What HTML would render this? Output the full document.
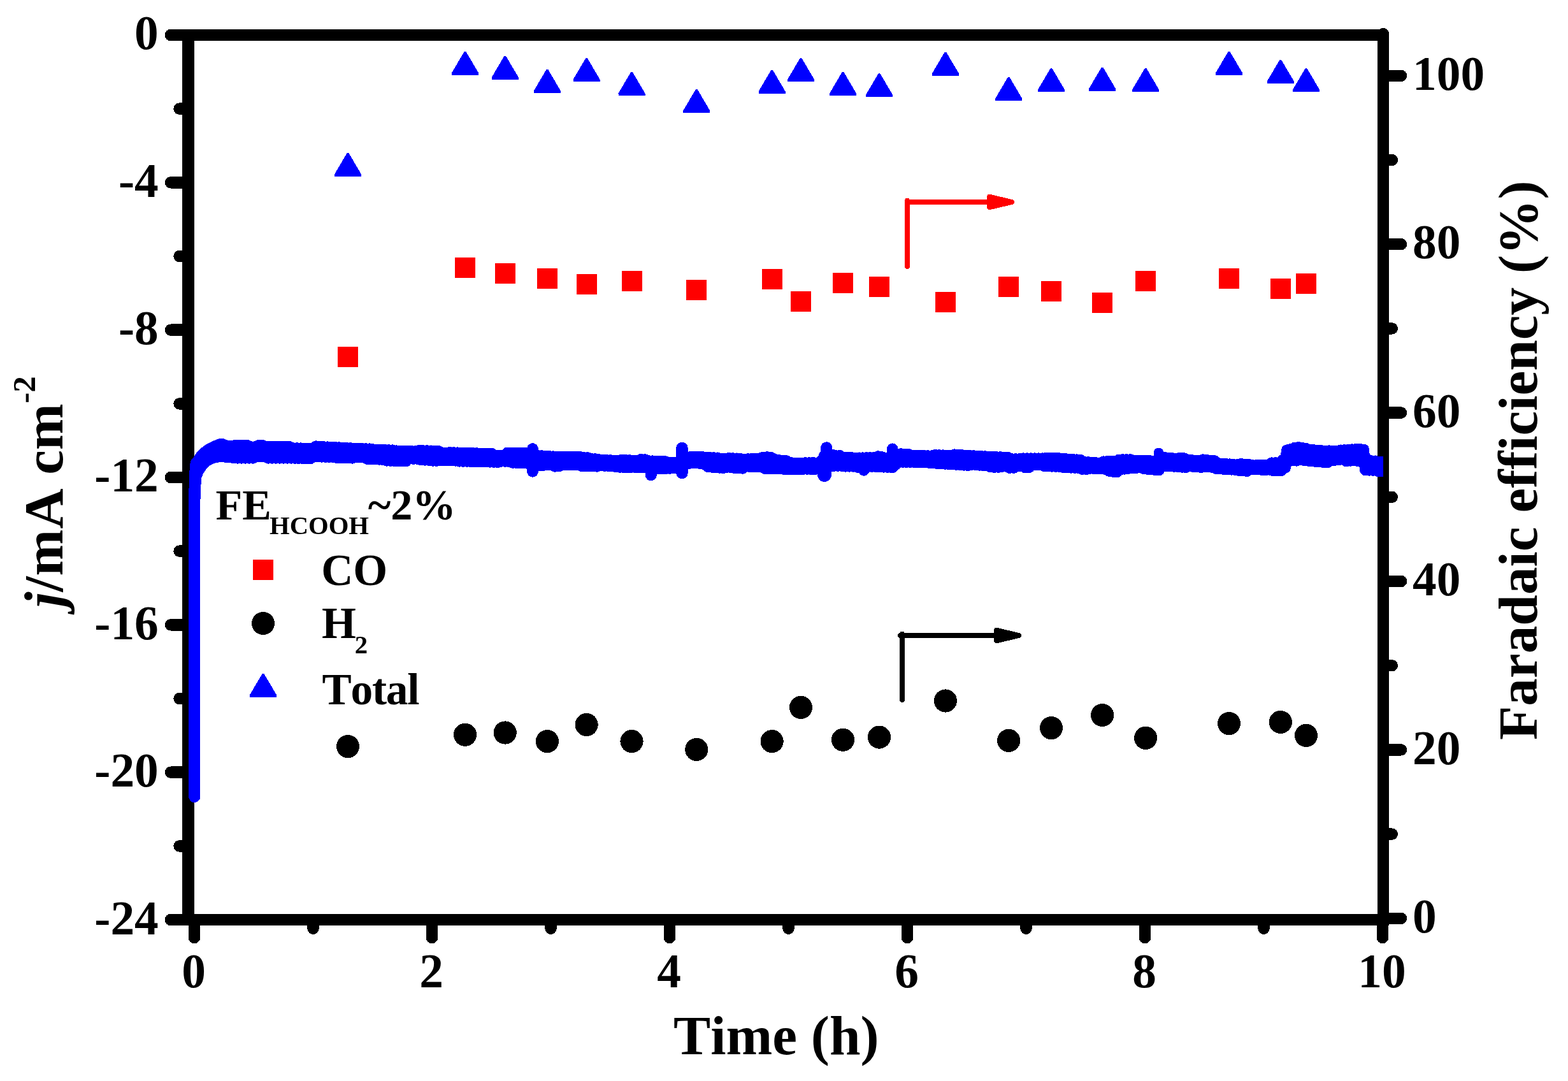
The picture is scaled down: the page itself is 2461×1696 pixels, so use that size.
<!DOCTYPE html>
<html lang="en"><head><meta charset="utf-8"><title>Stability test: current density and Faradaic efficiency vs time</title>
<style>html,body{margin:0;padding:0;background:#fff;}body{width:2461px;height:1696px;overflow:hidden;}svg{display:block;}text{font-family:'Liberation Serif','Times New Roman',serif;font-weight:bold;fill:#000;font-variant-ligatures:none;font-kerning:none;}</style>
</head><body>
<svg width="2461" height="1696" viewBox="0 0 2461 1696" shape-rendering="crispEdges">
<rect x="0" y="0" width="2461" height="1696" fill="#fff"/>
<g stroke="#000" stroke-width="18.4" stroke-linecap="round" fill="none">
<line x1="295.4" y1="45.8" x2="295.4" y2="1452.2" stroke-linecap="butt"/>
<line x1="295.4" y1="55.0" x2="2171.0" y2="55.0" stroke-linecap="butt"/>
<line x1="295.4" y1="1443.0" x2="2180.2" y2="1443.0" stroke-linecap="butt"/>
<line x1="2171.0" y1="53.2" x2="2171.0" y2="1440.8"/>
<line x1="292.4" y1="55.00" x2="268.0" y2="55.00"/>
<line x1="292.4" y1="170.67" x2="281.5" y2="170.67"/>
<line x1="292.4" y1="286.33" x2="268.0" y2="286.33"/>
<line x1="292.4" y1="402.00" x2="281.5" y2="402.00"/>
<line x1="292.4" y1="517.67" x2="268.0" y2="517.67"/>
<line x1="292.4" y1="633.33" x2="281.5" y2="633.33"/>
<line x1="292.4" y1="749.00" x2="268.0" y2="749.00"/>
<line x1="292.4" y1="864.67" x2="281.5" y2="864.67"/>
<line x1="292.4" y1="980.33" x2="268.0" y2="980.33"/>
<line x1="292.4" y1="1096.00" x2="281.5" y2="1096.00"/>
<line x1="292.4" y1="1211.67" x2="268.0" y2="1211.67"/>
<line x1="292.4" y1="1327.33" x2="281.5" y2="1327.33"/>
<line x1="292.4" y1="1443.00" x2="268.0" y2="1443.00"/>
<line x1="2174.0" y1="1440.80" x2="2199.0" y2="1440.80"/>
<line x1="2174.0" y1="1308.60" x2="2184.8" y2="1308.60"/>
<line x1="2174.0" y1="1176.40" x2="2199.0" y2="1176.40"/>
<line x1="2174.0" y1="1044.20" x2="2184.8" y2="1044.20"/>
<line x1="2174.0" y1="912.00" x2="2199.0" y2="912.00"/>
<line x1="2174.0" y1="779.80" x2="2184.8" y2="779.80"/>
<line x1="2174.0" y1="647.60" x2="2199.0" y2="647.60"/>
<line x1="2174.0" y1="515.40" x2="2184.8" y2="515.40"/>
<line x1="2174.0" y1="383.20" x2="2199.0" y2="383.20"/>
<line x1="2174.0" y1="251.00" x2="2184.8" y2="251.00"/>
<line x1="2174.0" y1="118.80" x2="2199.0" y2="118.80"/>
<line x1="305.00" y1="1446.0" x2="305.00" y2="1471.0"/>
<line x1="491.50" y1="1446.0" x2="491.50" y2="1456.7"/>
<line x1="678.00" y1="1446.0" x2="678.00" y2="1471.0"/>
<line x1="864.50" y1="1446.0" x2="864.50" y2="1456.7"/>
<line x1="1051.00" y1="1446.0" x2="1051.00" y2="1471.0"/>
<line x1="1237.50" y1="1446.0" x2="1237.50" y2="1456.7"/>
<line x1="1424.00" y1="1446.0" x2="1424.00" y2="1471.0"/>
<line x1="1610.50" y1="1446.0" x2="1610.50" y2="1456.7"/>
<line x1="1797.00" y1="1446.0" x2="1797.00" y2="1471.0"/>
<line x1="1983.50" y1="1446.0" x2="1983.50" y2="1456.7"/>
<line x1="2170.00" y1="1446.0" x2="2170.00" y2="1471.0"/>
</g>
<g font-size="75.4">
<text x="248.8" y="77.1" text-anchor="end">0</text>
<text x="248.8" y="308.5" text-anchor="end">-4</text>
<text x="248.8" y="540.0" text-anchor="end">-8</text>
<text x="248.8" y="771.4" text-anchor="end">-12</text>
<text x="248.8" y="1002.9" text-anchor="end">-16</text>
<text x="248.8" y="1234.3" text-anchor="end">-20</text>
<text x="248.8" y="1465.8" text-anchor="end">-24</text>
<text x="2217" y="1463.4">0</text>
<text x="2217" y="1198.9">20</text>
<text x="2217" y="934.3">40</text>
<text x="2217" y="669.8">60</text>
<text x="2217" y="405.2">80</text>
<text x="2217" y="140.7">100</text>
<text x="304.0" y="1549.2" text-anchor="middle">0</text>
<text x="677.0" y="1549.2" text-anchor="middle">2</text>
<text x="1050.0" y="1549.2" text-anchor="middle">4</text>
<text x="1423.0" y="1549.2" text-anchor="middle">6</text>
<text x="1796.0" y="1549.2" text-anchor="middle">8</text>
<text x="2169.0" y="1549.2" text-anchor="middle">10</text>
</g>
<text x="1057.1" y="1654.1" font-size="87.3">Time (h)</text>
<text transform="translate(97.6 953.0) rotate(-90)" font-size="87.3"><tspan font-style="italic">j</tspan>/<tspan dx="1.0">m</tspan><tspan dx="1.2">A</tspan><tspan dx="0.0"> cm</tspan><tspan font-size="51.0" dy="-42.6" dx="0.5">-2</tspan></text>
<text transform="translate(2412.2 1161.0) rotate(-90)" font-size="87.3">Faradaic efficiency (%)</text>
<g fill="#0000ff" stroke="none">
<polygon points="296.2,1250.0 296.2,790.0 296.6,760.0 297.9,728.4 300.0,722.0 303.5,718.0 308.7,709.7 314.9,703.5 323.2,697.3 331.5,693.2 340.0,689.5 346.0,687.6 352.0,688.5 358.0,691.0 360.0,691.0 360.0,725.7 344.0,725.3 336.0,727.0 329.4,730.5 323.2,736.7 319.0,742.9 316.5,749.1 315.0,765.0 314.3,790.0 314.3,1250.0"/>
<circle cx="305.25" cy="1250" r="9.05"/>
</g>
<polyline fill="none" stroke="#0000ff" stroke-width="18.0" stroke-linejoin="round" stroke-linecap="round" points="352.0,698.2 355.0,716.6 358.0,700.0 361.0,716.7 364.0,700.1 367.0,718.5 370.0,698.6 373.0,718.6 376.0,698.6 379.0,718.6 382.0,698.7 385.0,718.6 388.0,698.8 391.0,718.6 394.0,701.3 397.0,718.6 400.0,701.3 403.0,716.2 406.0,699.0 409.0,716.2 412.0,699.0 415.0,716.2 418.0,700.6 421.0,718.6 424.0,700.7 427.0,718.6 430.0,700.7 433.0,718.6 436.0,700.8 439.0,718.6 442.0,700.8 445.0,718.6 448.0,700.8 451.0,718.6 454.0,700.9 457.0,718.6 460.0,703.3 463.0,718.8 466.0,703.3 469.0,718.9 472.0,703.4 475.0,719.1 478.0,703.5 481.0,719.2 484.0,703.8 487.0,719.3 490.0,704.1 493.0,716.3 496.0,700.4 499.0,716.4 502.0,700.8 505.0,716.6 508.0,701.1 511.0,716.7 514.0,701.4 517.0,716.9 520.0,701.7 523.0,717.0 526.0,702.0 529.0,718.0 532.0,702.3 535.0,718.1 538.0,702.6 541.0,718.3 544.0,702.9 547.0,718.4 550.0,703.2 553.0,718.6 556.0,703.6 559.0,717.2 562.0,703.8 565.0,717.4 568.0,704.0 571.0,717.6 574.0,704.2 577.0,720.1 580.0,704.4 583.0,720.3 586.0,705.4 589.0,720.5 592.0,705.6 595.0,720.7 598.0,705.8 601.0,720.9 604.0,706.0 607.0,722.6 610.0,706.2 613.0,722.8 616.0,706.4 619.0,723.0 622.0,707.4 625.0,723.2 628.0,707.5 631.0,723.3 634.0,707.7 637.0,723.4 640.0,707.9 643.0,719.5 646.0,708.1 649.0,719.7 652.0,708.3 655.0,719.8 658.0,706.9 661.0,721.5 664.0,707.1 667.0,721.6 670.0,707.3 673.0,721.8 676.0,707.5 679.0,722.7 682.0,707.7 685.0,722.8 688.0,707.8 691.0,722.1 694.0,710.4 697.0,722.3 700.0,710.6 703.0,722.4 706.0,710.0 709.0,722.5 712.0,710.2 715.0,722.6 718.0,710.4 721.0,723.6 724.0,710.6 727.0,723.7 730.0,710.8 733.0,723.8 736.0,710.9 739.0,724.0 742.0,711.1 745.0,724.1 748.0,711.3 751.0,724.2 754.0,711.5 757.0,724.3 760.0,711.7 763.0,724.5 766.0,711.9 769.0,724.6 772.0,712.0 775.0,724.8 778.0,714.5 781.0,725.0 784.0,714.5 787.0,723.6 790.0,714.6 793.0,723.8 796.0,710.6 799.0,724.0 802.0,710.7 805.0,725.8 808.0,710.7 811.0,726.0 814.0,710.8 817.0,726.2 820.0,710.8 823.0,726.4 826.0,711.0 829.0,727.0 832.0,713.3 835.0,728.6 838.0,714.1 841.0,728.5 844.0,714.8 847.0,730.1 850.0,715.3 853.0,729.9 856.0,715.6 859.0,729.4 862.0,716.0 865.0,728.9 868.0,716.4 871.0,731.6 874.0,716.7 877.0,731.4 880.0,716.9 883.0,729.1 886.0,717.1 889.0,729.2 892.0,716.5 895.0,729.3 898.0,716.7 901.0,729.4 904.0,716.9 907.0,729.5 910.0,717.1 913.0,731.2 916.0,718.1 919.0,731.3 922.0,718.3 925.0,731.4 928.0,720.0 931.0,731.5 934.0,720.2 937.0,731.6 940.0,721.3 943.0,730.3 946.0,721.6 949.0,730.7 952.0,721.9 955.0,731.0 958.0,722.2 961.0,731.3 964.0,722.5 967.0,732.4 970.0,722.9 973.0,732.7 976.0,721.6 979.0,733.0 982.0,721.9 985.0,733.3 988.0,722.3 991.0,732.8 994.0,722.6 997.0,733.0 1000.0,723.0 1003.0,733.2 1006.0,720.9 1009.0,733.2 1012.0,721.3 1015.0,733.2 1018.0,723.3 1021.0,732.4 1024.0,723.4 1027.0,732.4 1030.0,723.5 1033.0,735.5 1036.0,723.6 1039.0,735.2 1042.0,723.7 1045.0,734.9 1048.0,725.4 1051.0,734.7 1054.0,725.5 1057.0,734.4 1060.0,725.6 1063.0,734.2 1066.0,724.1 1069.0,731.5 1072.0,722.1 1075.0,728.8 1078.0,720.1 1081.0,727.2 1084.0,717.0 1087.0,726.5 1090.0,717.0 1093.0,726.3 1096.0,717.1 1099.0,727.1 1102.0,717.1 1105.0,727.9 1108.0,717.5 1111.0,731.9 1114.0,717.8 1117.0,732.7 1120.0,718.2 1123.0,733.4 1126.0,718.5 1129.0,733.7 1132.0,719.7 1135.0,734.0 1138.0,720.1 1141.0,732.7 1144.0,718.8 1147.0,733.0 1150.0,719.2 1153.0,734.1 1156.0,719.5 1159.0,734.4 1162.0,719.9 1165.0,734.7 1168.0,720.6 1171.0,731.8 1174.0,720.3 1177.0,732.1 1180.0,720.0 1183.0,732.4 1186.0,719.7 1189.0,732.5 1192.0,719.4 1195.0,732.6 1198.0,717.5 1201.0,735.1 1204.0,717.2 1207.0,735.1 1210.0,717.8 1213.0,735.2 1216.0,721.0 1219.0,735.2 1222.0,721.8 1225.0,735.3 1228.0,722.5 1231.0,736.1 1234.0,723.3 1237.0,736.2 1240.0,725.7 1243.0,736.2 1246.0,726.5 1249.0,736.3 1252.0,726.8 1255.0,736.4 1258.0,726.5 1261.0,735.7 1264.0,726.2 1267.0,735.8 1270.0,726.3 1273.0,735.9 1276.0,725.9 1279.0,736.0 1282.0,726.9 1285.0,735.0 1288.0,723.7 1291.0,734.3 1294.0,715.0 1297.0,732.8 1300.0,715.0 1303.0,731.3 1306.0,713.6 1309.0,730.8 1312.0,715.1 1315.0,730.8 1318.0,715.0 1321.0,730.8 1324.0,718.1 1327.0,731.6 1330.0,718.0 1333.0,731.6 1336.0,717.9 1339.0,731.6 1342.0,718.6 1345.0,732.7 1348.0,718.5 1351.0,733.4 1354.0,718.4 1357.0,732.2 1360.0,718.2 1363.0,731.9 1366.0,718.1 1369.0,731.9 1372.0,718.0 1375.0,732.2 1378.0,716.3 1381.0,732.4 1384.0,717.1 1387.0,732.6 1390.0,718.7 1393.0,732.8 1396.0,717.5 1399.0,733.2 1402.0,715.3 1405.0,729.1 1408.0,713.1 1411.0,725.2 1414.0,712.3 1417.0,724.8 1420.0,712.6 1423.0,724.9 1426.0,712.8 1429.0,724.9 1432.0,714.5 1435.0,725.0 1438.0,714.7 1441.0,725.0 1444.0,714.9 1447.0,725.1 1450.0,715.0 1453.0,725.2 1456.0,715.2 1459.0,726.1 1462.0,715.4 1465.0,726.5 1468.0,714.0 1471.0,726.9 1474.0,714.2 1477.0,727.3 1480.0,714.4 1483.0,727.7 1486.0,714.6 1489.0,728.0 1492.0,714.8 1495.0,728.4 1498.0,713.4 1501.0,728.8 1504.0,713.7 1507.0,729.2 1510.0,714.1 1513.0,729.6 1516.0,714.5 1519.0,730.0 1522.0,714.9 1525.0,728.8 1528.0,715.3 1531.0,729.2 1534.0,715.7 1537.0,729.7 1540.0,716.1 1543.0,730.1 1546.0,716.3 1549.0,730.5 1552.0,716.6 1555.0,732.5 1558.0,716.8 1561.0,732.9 1564.0,717.1 1567.0,732.8 1570.0,717.3 1573.0,731.8 1576.0,717.6 1579.0,731.7 1582.0,717.8 1585.0,733.9 1588.0,720.2 1591.0,733.8 1594.0,720.2 1597.0,731.2 1600.0,720.2 1603.0,731.1 1606.0,719.4 1609.0,733.3 1612.0,719.4 1615.0,733.2 1618.0,719.4 1621.0,729.0 1624.0,719.4 1627.0,729.2 1630.0,719.4 1633.0,729.4 1636.0,719.4 1639.0,731.2 1642.0,718.6 1645.0,731.4 1648.0,718.6 1651.0,731.6 1654.0,718.6 1657.0,731.8 1660.0,718.6 1663.0,732.1 1666.0,719.6 1669.0,733.1 1672.0,720.0 1675.0,733.3 1678.0,720.5 1681.0,733.6 1684.0,721.0 1687.0,733.8 1690.0,721.4 1693.0,734.0 1696.0,721.9 1699.0,735.9 1702.0,724.8 1705.0,736.1 1708.0,725.2 1711.0,734.7 1714.0,725.7 1717.0,735.0 1720.0,726.2 1723.0,735.2 1726.0,726.6 1729.0,735.5 1732.0,724.4 1735.0,736.2 1738.0,724.1 1741.0,738.8 1744.0,723.8 1747.0,739.8 1750.0,723.5 1753.0,740.3 1756.0,721.6 1759.0,736.4 1762.0,721.3 1765.0,735.6 1768.0,721.3 1771.0,734.9 1774.0,721.3 1777.0,734.2 1780.0,722.9 1783.0,734.2 1786.0,722.9 1789.0,733.5 1792.0,722.9 1795.0,735.1 1798.0,722.9 1801.0,735.7 1804.0,723.1 1807.0,736.4 1810.0,723.5 1813.0,737.0 1816.0,723.3 1819.0,737.3 1822.0,720.6 1825.0,731.3 1828.0,718.0 1831.0,731.2 1834.0,718.6 1837.0,731.1 1840.0,719.2 1843.0,731.7 1846.0,719.7 1849.0,732.2 1852.0,718.7 1855.0,732.7 1858.0,719.3 1861.0,733.2 1864.0,721.4 1867.0,731.4 1870.0,722.0 1873.0,731.9 1876.0,722.5 1879.0,732.4 1882.0,723.2 1885.0,732.9 1888.0,721.4 1891.0,731.8 1894.0,722.0 1897.0,732.3 1900.0,722.6 1903.0,732.9 1906.0,723.2 1909.0,735.0 1912.0,727.0 1915.0,735.5 1918.0,727.6 1921.0,735.9 1924.0,728.0 1927.0,736.3 1930.0,728.4 1933.0,736.6 1936.0,728.9 1939.0,737.0 1942.0,729.3 1945.0,738.2 1948.0,728.1 1951.0,738.5 1954.0,728.5 1957.0,738.9 1960.0,728.8 1963.0,736.5 1966.0,730.2 1969.0,736.4 1972.0,730.1 1975.0,736.3 1978.0,730.0 1981.0,737.0 1984.0,729.9 1987.0,736.9 1990.0,729.7 1993.0,736.8 1996.0,726.4 1999.0,738.3 2002.0,726.3 2005.0,738.2 2008.0,726.0 2011.0,738.1 2014.0,721.3 2017.0,733.6 2020.0,706.3 2023.0,723.5 2026.0,705.0 2029.0,722.2 2032.0,702.7 2035.0,722.6 2038.0,701.8 2041.0,721.5 2044.0,702.8 2047.0,722.1 2050.0,703.9 2053.0,722.7 2056.0,705.7 2059.0,723.3 2062.0,706.3 2065.0,723.9 2068.0,706.7 2071.0,724.5 2074.0,707.1 2077.0,725.1 2080.0,707.5 2083.0,725.5 2086.0,707.4 2089.0,722.5 2092.0,707.9 2095.0,721.9 2098.0,707.6 2101.0,721.3 2104.0,706.5 2107.0,720.7 2110.0,706.2 2113.0,723.3 2116.0,705.8 2119.0,722.7 2122.0,705.4 2125.0,722.4 2128.0,705.0 2131.0,723.0 2134.0,704.6 2137.0,724.2 2140.0,705.6 2143.0,737.4 2146.0,720.8 2149.0,737.6 2152.0,723.1 2155.0,737.8 2158.0,723.5 2161.0,737.9 2162.0,724.5 2162.0,738.8"/>
<rect x="2160" y="715.7" width="11" height="32.2" fill="#0000ff"/>
<g stroke="#0000ff" stroke-linecap="round" fill="none">
<line x1="836.0" y1="704.2" x2="836.0" y2="739.7" stroke-width="18.0"/>
<line x1="1021.8" y1="730.0" x2="1021.8" y2="745.3" stroke-width="18.0"/>
<line x1="1070.5" y1="702.8" x2="1070.5" y2="742.2" stroke-width="18.5"/>
<line x1="1297.2" y1="702.2" x2="1297.2" y2="730.0" stroke-width="18.0"/>
<line x1="1294.0" y1="730.0" x2="1294.0" y2="745.3" stroke-width="21.5"/>
<line x1="1400.8" y1="704.2" x2="1400.8" y2="733.5" stroke-width="17.6"/>
<line x1="1355.7" y1="725.0" x2="1355.7" y2="738.2" stroke-width="17.0"/>
<line x1="1818.6" y1="710.5" x2="1818.6" y2="737.5" stroke-width="16.0"/>
</g>
<g fill="#0000ff">
<polygon points="544.6,240.1 547.4,240.1 567.0,273.4 567.0,277.1 525.0,277.1 525.0,273.4"/>
<polygon points="728.6,81.0 731.4,81.0 751.0,114.3 751.0,118.0 709.0,118.0 709.0,114.3"/>
<polygon points="791.3,88.0 794.1,88.0 813.8,121.3 813.8,125.0 771.7,125.0 771.7,121.3"/>
<polygon points="857.5,109.1 860.3,109.1 879.9,142.4 879.9,146.1 837.9,146.1 837.9,142.4"/>
<polygon points="919.2,91.4 922.0,91.4 941.6,124.7 941.6,128.4 899.6,128.4 899.6,124.7"/>
<polygon points="990.1,113.2 992.9,113.2 1012.5,146.5 1012.5,150.2 970.5,150.2 970.5,146.5"/>
<polygon points="1091.9,140.3 1094.7,140.3 1114.3,173.6 1114.3,177.3 1072.2,177.3 1072.2,173.6"/>
<polygon points="1210.2,110.1 1213.0,110.1 1232.6,143.4 1232.6,147.1 1190.5,147.1 1190.5,143.4"/>
<polygon points="1255.6,91.4 1258.4,91.4 1278.0,124.7 1278.0,128.4 1236.0,128.4 1236.0,124.7"/>
<polygon points="1321.6,113.2 1324.4,113.2 1344.0,146.5 1344.0,150.2 1302.0,150.2 1302.0,146.5"/>
<polygon points="1378.6,115.4 1381.4,115.4 1401.0,148.7 1401.0,152.4 1359.0,152.4 1359.0,148.7"/>
<polygon points="1482.5,82.0 1485.3,82.0 1505.0,115.3 1505.0,119.0 1462.9,119.0 1462.9,115.3"/>
<polygon points="1581.8,121.2 1584.6,121.2 1604.2,154.5 1604.2,158.2 1562.2,158.2 1562.2,154.5"/>
<polygon points="1648.6,107.4 1651.4,107.4 1671.0,140.7 1671.0,144.4 1629.0,144.4 1629.0,140.7"/>
<polygon points="1728.7,105.9 1731.5,105.9 1751.1,139.2 1751.1,142.9 1709.0,142.9 1709.0,139.2"/>
<polygon points="1796.7,107.4 1799.5,107.4 1819.1,140.7 1819.1,144.4 1777.0,144.4 1777.0,140.7"/>
<polygon points="1927.6,81.0 1930.4,81.0 1950.0,114.3 1950.0,118.0 1908.0,118.0 1908.0,114.3"/>
<polygon points="2008.4,94.1 2011.2,94.1 2030.8,127.4 2030.8,131.1 1988.8,131.1 1988.8,127.4"/>
<polygon points="2048.6,107.4 2051.4,107.4 2071.1,140.7 2071.1,144.4 2029.0,144.4 2029.0,140.7"/>
<polygon points="411.6,1057.0 414.4,1057.0 434.1,1090.3 434.1,1094.0 391.9,1094.0 391.9,1090.3"/>
</g>
<g fill="#ff0000">
<rect x="530.0" y="544.0" width="32.0" height="32.0"/>
<rect x="714.0" y="403.9" width="32.0" height="32.0"/>
<rect x="776.7" y="413.0" width="32.0" height="32.0"/>
<rect x="842.9" y="420.9" width="32.0" height="32.0"/>
<rect x="904.6" y="430.0" width="32.0" height="32.0"/>
<rect x="975.5" y="424.9" width="32.0" height="32.0"/>
<rect x="1077.3" y="439.1" width="32.0" height="32.0"/>
<rect x="1195.6" y="422.0" width="32.0" height="32.0"/>
<rect x="1241.0" y="456.6" width="32.0" height="32.0"/>
<rect x="1307.0" y="427.5" width="32.0" height="32.0"/>
<rect x="1364.0" y="434.0" width="32.0" height="32.0"/>
<rect x="1467.9" y="458.0" width="32.0" height="32.0"/>
<rect x="1567.2" y="434.0" width="32.0" height="32.0"/>
<rect x="1634.0" y="441.0" width="32.0" height="32.0"/>
<rect x="1714.1" y="459.1" width="32.0" height="32.0"/>
<rect x="1782.1" y="425.0" width="32.0" height="32.0"/>
<rect x="1913.0" y="420.9" width="32.0" height="32.0"/>
<rect x="1993.8" y="437.1" width="32.0" height="32.0"/>
<rect x="2034.0" y="429.0" width="32.0" height="32.0"/>
<rect x="397.0" y="878.0" width="32.0" height="32.0"/>
</g>
<g fill="#000">
<circle cx="546.0" cy="1171.1" r="18.1"/>
<circle cx="730.0" cy="1152.7" r="18.1"/>
<circle cx="792.7" cy="1149.5" r="18.1"/>
<circle cx="858.9" cy="1163.1" r="18.1"/>
<circle cx="920.6" cy="1137.0" r="18.1"/>
<circle cx="991.5" cy="1163.1" r="18.1"/>
<circle cx="1093.3" cy="1175.9" r="18.1"/>
<circle cx="1211.6" cy="1163.1" r="18.1"/>
<circle cx="1257.0" cy="1109.9" r="18.1"/>
<circle cx="1323.0" cy="1160.7" r="18.1"/>
<circle cx="1380.0" cy="1156.6" r="18.1"/>
<circle cx="1483.9" cy="1099.5" r="18.1"/>
<circle cx="1583.2" cy="1161.9" r="18.1"/>
<circle cx="1650.0" cy="1142.1" r="18.1"/>
<circle cx="1730.1" cy="1122.0" r="18.1"/>
<circle cx="1798.1" cy="1157.8" r="18.1"/>
<circle cx="1929.0" cy="1135.1" r="18.1"/>
<circle cx="2009.8" cy="1132.9" r="18.1"/>
<circle cx="2050.0" cy="1153.9" r="18.1"/>
<circle cx="413.0" cy="978.0" r="18.1"/>
</g>
<g stroke="#ff0000" fill="#ff0000" stroke-width="8" stroke-linecap="round" stroke-linejoin="round"><line x1="1424.0" y1="314.7" x2="1424.0" y2="418.0"/><line x1="1424.0" y1="317.0" x2="1553.0" y2="317.0"/><polygon points="1553.0,308.8 1553.0,325.2 1588.0,317.0"/></g>
<g stroke="#000000" fill="#000000" stroke-width="8" stroke-linecap="round" stroke-linejoin="round"><line x1="1416.0" y1="994.7" x2="1416.0" y2="1098.0"/><line x1="1413.0" y1="997.0" x2="1564.1" y2="997.0"/><polygon points="1564.1,988.8 1564.1,1005.2 1599.0,997.0"/></g>
<text x="338.6" y="814.5" font-size="68.3">FE</text>
<text x="423.0" y="838.2" font-size="40.7">HCOOH</text>
<text x="577.7" y="814.5" font-size="68.3">~2%</text>
<text x="504.3" y="917.6" font-size="69.3">CO</text>
<text x="505.0" y="1001.4" font-size="69.3">H<tspan font-size="40.7" dy="23.2" dx="-2.2">2</tspan></text>
<text x="505.5" y="1104.5" font-size="69.3" letter-spacing="-1.2">Total</text>
</svg>
</body></html>
